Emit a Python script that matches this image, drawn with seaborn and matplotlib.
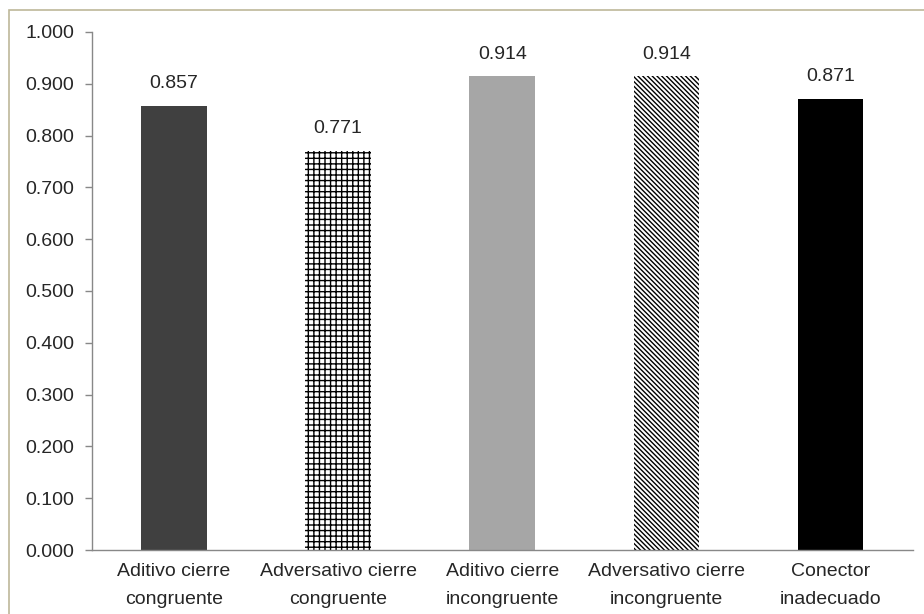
import matplotlib
matplotlib.use("Agg")
import matplotlib.pyplot as plt
import seaborn as sns
import pandas as pd
from matplotlib.patches import Rectangle

# chart values
categories = ["Aditivo cierre\ncongruente", "Adversativo cierre\ncongruente",
              "Aditivo cierre\nincongruente", "Adversativo cierre\nincongruente",
              "Conector\ninadecuado"]
values = [0.857, 0.771, 0.914, 0.914, 0.871]
colors = ["#404040", "white", "#a6a6a6", "white", "black"]
hatches = [None, "+++", None, "\\\\\\\\\\\\\\", None]
yticks = [0.0, 0.1, 0.2, 0.3, 0.4, 0.5, 0.6, 0.7, 0.8, 0.9, 1.0]

sns.set_style("white")
plt.rcParams['font.family'] = ['Liberation Sans', 'DejaVu Sans']
plt.rcParams['hatch.linewidth'] = 1.0
plt.rcParams['hatch.color'] = 'black'

df = pd.DataFrame({"cat": categories, "val": values})

fig = plt.figure(figsize=(9.24, 6.14), dpi=100)
ax = fig.add_axes([0.0996, 0.1042, 0.888, 0.8438])

sns.barplot(data=df, x="cat", y="val", hue="cat", palette=colors,
            width=0.4, legend=False, ax=ax, saturation=1, edgecolor="none")

for patch, h in zip(ax.patches, hatches):
    if h:
        patch.set_hatch(h)
        patch.set_edgecolor("black")
        patch.set_linewidth(0)

for cont in ax.containers:
    ax.bar_label(cont, fmt="%.3f", padding=10, fontsize=14)

ax.set_xlim(-0.5, 4.5)
ax.set_ylim(0, 1.0)
ax.set_yticks(yticks)
ax.set_yticklabels([f"{t:.3f}" for t in yticks], fontsize=14)
ax.set_xticks(range(len(categories)))
ax.set_xticklabels(categories, fontsize=14, linespacing=1.85)
ax.tick_params(axis='x', length=0, pad=9)
ax.tick_params(axis='y', length=5, width=1, color="#888888", left=True, pad=8)
ax.set_xlabel("")
ax.set_ylabel("")
for side in ["top", "right"]:
    ax.spines[side].set_visible(False)
for side in ["left", "bottom"]:
    ax.spines[side].set_color("#888888")
    ax.spines[side].set_linewidth(1)

# outer frame
fig.patches.append(Rectangle((9 / 924, -0.01), 1.0, 1 - 10 / 614 + 0.01,
                             transform=fig.transFigure, fill=False,
                             edgecolor="#bdb89a", linewidth=1.2))

fig.savefig("out.png", dpi=100)
